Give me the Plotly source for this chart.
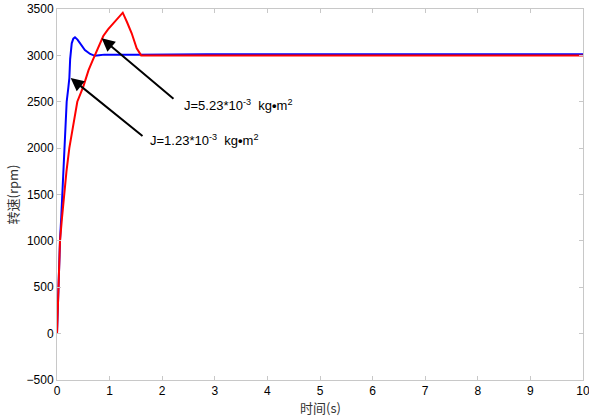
import plotly.graph_objects as go

# J = 1.23e-3 kg*m^2 (blue)
t_blue = [0, 0.01, 0.03, 0.057, 0.08, 0.1, 0.133, 0.16, 0.184, 0.215, 0.235, 0.25, 0.28,
          0.31, 0.342, 0.39, 0.44, 0.53, 0.63, 0.72, 0.8, 0.9, 1.5, 2.85, 10]
rpm_blue = [0, 200, 500, 1000, 1250, 1500, 2000, 2270, 2500, 2650, 2756, 2960, 3130,
            3180, 3195, 3170, 3130, 3058, 3015, 2995, 3002, 3008, 3008, 3012, 3012]

# J = 5.23e-3 kg*m^2 (red)
t_red = [0, 0.01, 0.03, 0.057, 0.095, 0.133, 0.18, 0.234, 0.31, 0.386, 0.5, 0.6, 0.68,
         0.72, 0.8, 0.88, 0.97, 1.07, 1.16, 1.25, 1.33, 1.42, 1.515, 1.565, 1.6, 10]
rpm_red = [0, 200, 500, 1000, 1250, 1500, 1750, 2000, 2250, 2500, 2663, 2840, 2950,
           3004, 3110, 3209, 3280, 3346, 3400, 3460, 3360, 3238, 3076, 3022, 3000, 3000]

x_ticks = list(range(0, 11))
y_ticks = list(range(-500, 3501, 500))

fig = go.Figure()
fig.add_trace(go.Scatter(x=t_blue, y=rpm_blue, mode="lines",
                         line=dict(color="#0000ff", width=2), showlegend=False))
fig.add_trace(go.Scatter(x=t_red, y=rpm_red, mode="lines",
                         line=dict(color="#ff0000", width=2), showlegend=False))

tick_font = dict(family="Liberation Sans, Arial", size=12, color="black")
axis_common = dict(showgrid=False, zeroline=False, showline=True, mirror="ticks",
                   linecolor="#c8c8c8", linewidth=1, ticks="inside", ticklen=4,
                   tickcolor="#c8c8c8", tickfont=tick_font, automargin=False,
                   ticklabeloverflow="allow")

fig.update_xaxes(range=[0, 10], tickvals=x_ticks, **axis_common)
fig.update_yaxes(range=[-500, 3500], tickvals=y_ticks, **axis_common)

title_font = dict(family="Noto Sans CJK SC", size=13, color="#333333")
fig.add_annotation(x=0.5, y=0, xref="paper", yref="paper", yshift=-27, yanchor="middle",
                   showarrow=False, text="时间(s)", font=title_font)
fig.add_annotation(x=0, y=0.5, xref="paper", yref="paper", xshift=-45, xanchor="center",
                   textangle=-90, showarrow=False, text="转速(rpm)", font=title_font)

ann_font = dict(family="Liberation Sans, Arial", size=13, color="black")
fig.add_annotation(x=0.85, y=3184, ax=2.243, ay=2519, xref="x", yref="y", axref="x", ayref="y",
                   text="", showarrow=True, arrowhead=2, arrowsize=1.3, arrowwidth=2, arrowcolor="black")
fig.add_annotation(x=0.26, y=2756, ax=1.654, ay=2117, xref="x", yref="y", axref="x", ayref="y",
                   text="", showarrow=True, arrowhead=2, arrowsize=1.3, arrowwidth=2, arrowcolor="black")
fig.add_annotation(x=2.37, y=2465, xref="x", yref="y", xanchor="left", yanchor="middle", showarrow=False,
                   text="J=5.23*10<sup>-3</sup>  kg<b>•</b>m<sup>2</sup>", font=ann_font)
fig.add_annotation(x=1.73, y=2088, xref="x", yref="y", xanchor="left", yanchor="middle", showarrow=False,
                   text="J=1.23*10<sup>-3</sup>  kg<b>•</b>m<sup>2</sup>", font=ann_font)

fig.update_layout(width=589, height=416, margin=dict(l=57, r=6, t=9, b=36),
                  plot_bgcolor="white", paper_bgcolor="white")

fig.write_html("out.html", config={"displayModeBar": False},
               post_script="document.body.style.margin='0';")
